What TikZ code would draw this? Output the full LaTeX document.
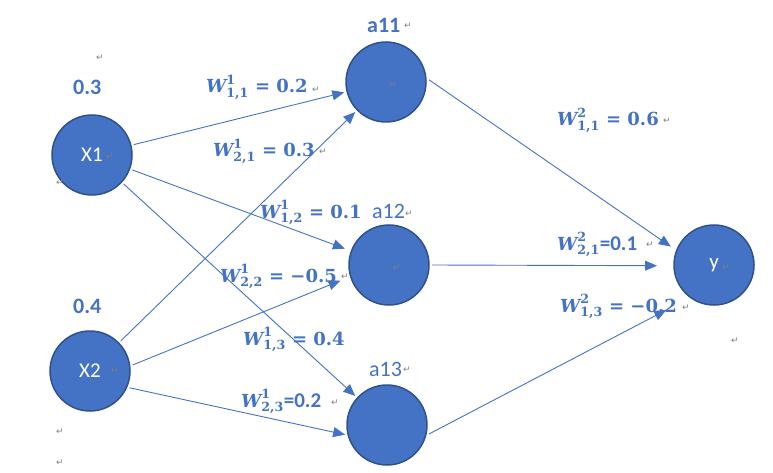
\documentclass[tikz,border=0pt]{standalone}
\usepackage{amsmath}
\usepackage{amssymb}
\usepackage{xcolor}
\usepackage{fontspec}
\setsansfont{Carlito}
\newfontfamily\markfont{DejaVu Sans}
\newfontfamily\wfont{DejaVu Serif}
\usepackage{tikz}
\usetikzlibrary{arrows.meta}

\definecolor{nodeblue}{HTML}{4472C4}
\definecolor{nodeedge}{HTML}{2F528F}
\definecolor{markgray}{HTML}{7F7F7F}

% bold weight symbol W^{layer}_{i,j}
\newcommand{\wsym}[2]{$\text{\wfont\bfseries\itshape W}^{\text{\wfont\bfseries #1}}_{\text{\wfont\bfseries #2}}$}

\begin{document}
\begin{tikzpicture}[x=1pt,y=-1pt,
    neuron/.style={circle, fill=nodeblue, draw=nodeedge, line width=1.5pt,
        minimum size=80pt, inner sep=0pt, outer sep=3pt, text=white,
        font=\sffamily\fontsize{21}{21}\selectfont},
    wire/.style={draw=nodeblue, line width=0.9pt, -{Triangle[length=12pt,width=10pt]}},
    weight/.style={text=nodeblue, inner sep=0pt, anchor=base west,
        font=\wfont\bfseries\fontsize{18}{18}\selectfont},
    plain/.style={text=nodeblue, inner sep=0pt, anchor=base west,
        font=\sffamily\fontsize{22}{22}\selectfont},
    pmark/.style={text=markgray, inner sep=0pt, font=\markfont\fontsize{9}{9}\selectfont}]
    \useasboundingbox (0,0) rectangle (773,473);

    % neurons
    \node[neuron] (X1) at (92,155) {X1};
    \node[neuron] (X2) at (90,371) {X2};
    \node[neuron] (a11) at (386,82) {};
    \node[neuron] (a12) at (389,265) {};
    \node[neuron] (a13) at (387,425) {};
    \node[neuron] (y) at (714,265) {y};

    % input values and hidden labels
    \node[plain, font=\sffamily\bfseries\fontsize{22}{22}\selectfont] (in1) at (73,95) {0.3};
    \node[plain, font=\sffamily\bfseries\fontsize{22}{22}\selectfont] (in2) at (73,313) {0.4};
    \node[plain, font=\sffamily\bfseries\fontsize{22}{22}\selectfont] (lab11) at (367,33) {a11};
    \node[plain] (lab12) at (372,218) {a12};
    \node[plain] (lab13) at (369,376) {a13};

    % connections
    \draw[wire] (X1) -- (a11);
    \draw[wire, shorten >=4pt] (X1) -- (a12);
    \draw[wire] (X1) -- (a13);
    \draw[wire] (X2) -- (a11);
    \draw[wire, shorten >=8pt] (X2.8) -- (a12.197);
    \draw[wire] (X2.-23) -- (a13.193);
    \draw[wire, shorten >=4pt] (a11.3) -- (y.158);
    \draw[wire, shorten >=14pt] (a12.0) -- (y.181);
    \draw[wire, shorten >=24pt] (a13.-12) -- (y.-128);

    % weights
    \node[weight] (w111) at (206,93) {\wsym{1}{1,1} = 0.2};
    \node[weight] (w121) at (213,157) {\wsym{1}{2,1} = 0.3};
    \node[weight] (w112) at (260,218) {\wsym{1}{1,2} = 0.1};
    \node[weight] (w122) at (220,282) {\wsym{1}{2,2} = −0.5};
    \node[weight] (w113) at (243,345) {\wsym{1}{1,3} = 0.4};
    \node[weight] (w123) at (241,407) {\wsym{1}{2,3}{\sffamily\bfseries\fontsize{21}{21}\selectfont =0.2}};
    \node[weight] (w211) at (557,126) {\wsym{2}{1,1} = 0.6};
    \node[weight] (w221) at (557,250) {\wsym{2}{2,1}{\sffamily\bfseries\fontsize{21}{21}\selectfont =0.1}};
    \node[weight] (w213) at (560,312) {\wsym{2}{1,3} = −0.2};

    % paragraph marks
    \foreach \px/\py [count=\i] in {100/58, 60/183, 110/157, 115/371, 60/432, 60/463,
        408/26, 393/85, 316/90, 323/152, 409/214, 397/268, 345/277, 407/370,
        667/121, 650/245, 726/268, 686/308, 735/341, 335/403}
        \node[pmark] (pm\i) at (\px,\py) {↵};
\end{tikzpicture}
\end{document}
